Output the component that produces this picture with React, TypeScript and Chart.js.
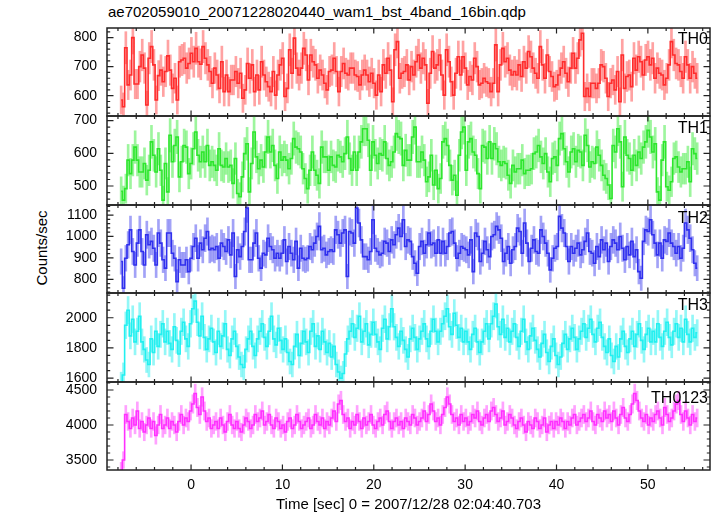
import React, { useEffect, useRef } from "react";
import { Chart, registerables } from "chart.js";

Chart.register(...registerables);

// ---------- text ----------
const TITLE = "ae702059010_20071228020440_wam1_bst_4band_16bin.qdp";
const X_LABEL = "Time [sec] 0 = 2007/12/28 02:04:40.703";
const Y_LABEL = "Counts/sec";
const PANEL_NAMES = ["TH0", "TH1", "TH2", "TH3", "TH0123"];

// ---------- axes ----------
const X_MIN = -9.2;
const X_MAX = 56.8;
const X_TICKS = [0, 10, 20, 30, 40, 50];
const T_FIRST = -7.65; // centre of first bin (s)
const T_LAST = 55.4; // centre of last bin (s)
const BIN_SEC = 0.25; // 16 x 1/64 s bins

const TH0_TICKS = [600, 700, 800];
const TH1_TICKS = [500, 600, 700];
const TH2_TICKS = [800, 900, 1000, 1100];
const TH3_TICKS = [1600, 1800, 2000];
const TH0123_TICKS = [3500, 4000, 4500];

// ---------- data (counts/sec) ----------
const TH0 = [
  585, 562, 765, 637, 671, 800, 640, 640, 700, 740, 695, 568, 729, 769, 706, 585, 669, 688, 648, 683,
  737, 688, 625, 660, 585, 717, 723, 729, 695, 711, 746, 717, 763, 717, 708, 769, 729, 706, 683, 643,
  695, 671, 625, 717, 614, 671, 614, 654, 654, 683, 643, 677, 591, 620, 711, 660, 706, 614, 671, 620,
  717, 671, 648, 631, 614, 683, 602, 671, 706, 729, 597, 625, 758, 677, 798, 695, 671, 695, 763, 740,
  654, 740, 717, 706, 660, 688, 671, 643, 620, 683, 688, 729, 683, 614, 683, 711, 677, 671, 695, 695,
  671, 666, 637, 671, 688, 671, 648, 677, 643, 602, 671, 614, 706, 677, 729, 688, 579, 758, 786, 660,
  677, 683, 706, 654,
  700, 671, 717, 740, 695, 729, 706, 574, 677, 752, 695, 706, 740, 671, 602, 758, 717, 648, 602, 677,
  734, 671, 734, 695, 637, 666, 654, 729, 700, 637, 643, 660, 648, 643, 614, 643, 775, 614, 706, 763,
  717, 729, 688, 671, 683, 671, 706, 666, 717, 695, 752, 734, 695, 677, 660, 769, 706, 660, 740, 683,
  666, 631, 637, 671, 695, 717, 677, 648, 695, 746, 695, 729, 792, 815, 597, 625, 597, 643, 643, 625,
  643, 706, 700, 660, 597, 643, 654, 620, 683, 579, 740, 625, 666, 671, 631, 729, 688, 734, 717, 671,
  723, 734, 706, 729, 660, 695, 677, 671, 637, 660, 706, 786, 740, 711, 706, 683, 660, 734, 706, 660,
  700, 677, 660,
];

const TH1 = [
  484, 457, 492, 579, 538, 579, 619, 579, 543, 543, 569, 518, 548, 635, 594, 543, 614, 548, 457, 569,
  482, 655, 574, 624, 650, 528, 574, 624, 619, 538, 569, 614, 665, 594, 574, 604, 574, 624, 563, 574,
  563, 548, 614, 563, 558, 584, 558, 563, 508, 584, 477, 467, 528, 599, 629, 482, 569, 665, 589, 553,
  579, 558, 604, 650, 604, 624, 563, 523, 604, 579, 589, 579, 553, 584, 645, 619, 614, 604, 553, 523,
  492, 548, 604, 548, 533, 508, 619, 589, 589, 548, 589, 563, 558, 594, 589, 574, 599, 650, 584, 548,
  604, 548, 604, 635, 675, 675, 640, 548, 635, 594, 569, 599, 594, 635, 584, 563, 574, 604, 660, 650,
  645, 563, 609, 579,
  579, 650, 680, 574, 574, 604, 579, 513, 528, 594, 503, 548, 492, 523, 635, 645, 624, 563, 518, 533,
  472, 594, 665, 680, 548, 635, 645, 604, 594, 538, 492, 624, 619, 584, 635, 584, 629, 614, 574, 563,
  574, 569, 533, 508, 563, 543, 553, 553, 579, 538, 548, 548, 553, 599, 604, 624, 589, 569, 599, 543,
  513, 584, 589, 563, 645, 660, 614, 574, 543, 604, 614, 574, 609, 604, 563, 655, 624, 558, 574, 569,
  619, 594, 563, 533, 523, 503, 462, 624, 604, 675, 635, 498, 650, 594, 584, 548, 594, 563, 604, 584,
  619, 635, 670, 650, 604, 629, 482, 457, 579, 635, 498, 487, 513, 584, 589, 558, 543, 553, 553, 574,
  513, 614, 599, 584,
];

const TH2 = [
  883, 758, 898, 961, 1031, 930, 867, 969, 1031, 930, 867, 1008, 961, 977, 945, 867, 1016, 969, 891, 852,
  1016, 1016, 922, 898, 789, 891, 867, 867, 891, 836, 898, 953, 992, 898, 969, 938, 992, 1023, 938, 945,
  938, 953, 898, 969, 953, 930, 984, 914, 1016, 813, 938, 906, 953, 1023, 1133, 891, 891, 969, 1016, 898,
  852, 922, 914, 992, 953, 938, 898, 922, 898, 922, 984, 883, 953, 922, 891, 977, 852, 945, 898, 891,
  898, 953, 938, 969, 1000, 1047, 938, 945, 914, 930, 938, 930, 1031, 1008, 969, 1016, 1031, 813, 1023, 1016,
  969, 1133, 1063, 984, 906, 906, 891, 930, 1078, 945, 930, 914, 922, 977, 969, 930, 984, 961, 1008, 1039,
  1000, 1078, 953, 984,
  977, 906, 875, 828, 953, 977, 922, 961, 1016, 961, 969, 922, 984, 922, 977, 922, 953, 1016, 1023, 969,
  898, 922, 953, 945, 938, 914, 984, 836, 1016, 1000, 883, 922, 977, 938, 906, 1000, 1008, 1047, 1031, 992,
  883, 922, 953, 875, 938, 953, 1039, 1023, 922, 1063, 969, 883, 945, 984, 930, 922, 1031, 1000, 969, 922,
  844, 898, 945, 953, 1094, 1039, 1016, 953, 883, 953, 922, 945, 969, 914, 938, 977, 1016, 930, 922, 875,
  953, 906, 984, 938, 969, 883, 953, 984, 969, 938, 1000, 945, 891, 953, 914, 977, 906, 938, 836, 805,
  977, 1031, 1023, 1078, 1008, 969, 914, 969, 898, 984, 977, 1016, 969, 953, 922, 953, 898, 945, 1063, 1031,
  992, 938, 875, 852,
];

const TH3 = [
  1560, 1620, 1950, 2050, 1880, 1990, 1840, 1910, 2010, 1840,
  1790, 1720, 1690, 1860, 1770, 1910, 1810, 1890, 1960, 1840,
  1910, 1830, 1790, 1940, 1850, 1760, 1910, 1970, 1860, 1810,
  1960, 2060, 2110, 1970, 1880, 2010, 1870, 1790, 1860, 1930,
  1840, 1770, 1910, 1810, 1880, 1960, 1790, 1750, 1860, 1910,
  1810, 1740, 1690, 1670, 1790, 1860, 1910, 1810, 1750, 1860,
  1910, 1960, 1870, 1810, 1910, 2010, 1860, 1820, 1930, 1850,
  1790, 1860, 1770, 1710, 1690, 1810, 1890, 1750, 1830, 1910,
  1840, 1770, 1910, 1960, 1810, 1880, 1790, 1910, 1840, 1770,
  1830, 1740, 1810, 1690, 1640, 1600, 1630, 1760, 1860, 1910,
  1960, 1870, 1930, 2010, 1840, 1910, 1960, 1820, 1890, 1970,
  1890, 1840, 1790, 1930, 1990, 1860, 1940, 2060, 1940, 1870,
  1810, 1910, 1850, 1790, 1740, 1860, 1930, 1870, 1790, 1860,
  1910, 1960, 1860, 1810, 1910, 1990, 1910, 1840, 1910, 1960,
  2010, 2060, 1940, 1890, 2030, 1950, 1870, 1930, 1840, 1910,
  1840, 1790, 1890, 1930, 1840, 1770, 1840, 1910, 1960, 1860,
  1960, 2010, 2090, 1940, 1890, 1990, 1870, 1930, 1840, 1910,
  1960, 1870, 1810, 1910, 1990, 1840, 1790, 1880, 1930, 1850,
  1790, 1740, 1830, 1890, 1770, 1710, 1810, 1860, 1750, 1690,
  1740, 1830, 1890, 1790, 1860, 1930, 1870, 1790, 1860, 1910,
  1960, 1870, 1930, 1990, 1890, 1840, 1930, 1970, 1870, 1810,
  1770, 1860, 1750, 1710, 1810, 1740, 1860, 1910, 1810, 1770,
  1860, 1910, 1810, 1890, 1960, 1850, 1790, 1890, 1930, 1840,
  1910, 1840, 1960, 1870, 1810, 1910, 1970, 1870, 1820, 1910,
  1960, 1870, 1930, 1840, 1990, 1890, 1840, 1930, 1870, 1900,
];

const TH0123 = [
  3350, 3500, 4150, 4050, 3950, 4100, 4000, 4200, 3950, 4050,
  3900, 4000, 4100, 3950, 4050, 3850, 4000, 4150, 3950, 4000,
  4100, 3950, 4050, 4000, 3900, 4050, 4150, 4000, 4100, 4050,
  4200, 4300, 4450, 4250, 4150, 4400, 4200, 4050, 4100, 3950,
  4000, 4050, 3950, 4100, 4000, 3900, 4050, 4150, 4000, 3950,
  4050, 3950, 3900, 4000, 4100, 4050, 3950, 4000, 4150, 4050,
  4100, 4200, 4000, 4050, 4150, 4000, 3950, 4100, 4050, 3950,
  4000, 3900, 4050, 4100, 3950, 4000, 4150, 4050, 3950, 4000,
  4050, 4100, 3950, 4000, 4150, 4050, 4000, 4100, 3950, 4050,
  4000, 4100, 4200, 4050, 4300, 4350, 4150, 4050, 4100, 3950,
  4050, 4000, 4150, 4050, 3950, 4100, 4000, 4050, 4150, 4000,
  3950, 4050, 4100, 4000, 4150, 4200, 4050, 3950, 4050, 4100,
  4000, 4050, 3950, 4100, 4050, 4000, 4150, 4100, 4000, 4050,
  4100, 4200, 4050, 4150, 4300, 4200, 4050, 4100, 4000, 4150,
  4250, 4400, 4300, 4150, 4050, 4100, 4000, 4150, 4050, 4100,
  4000, 4050, 4150, 4100, 4200, 4050, 4000, 4100, 4150, 4050,
  4200, 4250, 4150, 4050, 4100, 4200, 4000, 4050, 4150, 4100,
  4000, 3950, 4050, 4100, 4000, 3900, 4050, 4000, 3950, 4100,
  4050, 3950, 4000, 4100, 3900, 4000, 4050, 3950, 4050, 4000,
  4100, 4050, 3950, 4050, 4000, 4100, 4150, 4000, 4050, 4100,
  4150, 4050, 4100, 4200, 4050, 4000, 4150, 4100, 4050, 4200,
  4100, 4150, 4050, 4200, 4100, 4000, 4150, 4250, 4100, 4050,
  4150, 4300, 4450, 4350, 4200, 4100, 4050, 4150, 4000, 4100,
  4050, 4150, 4200, 4100, 4000, 4250, 4150, 4050, 4100, 4200,
  4300, 4350, 4150, 4050, 4200, 4100, 4000, 4150, 4050, 4100,
];

// ---------- layout / style ----------
const W = 717;
const H = 516;
const PANEL_TOPS = [28, 116, 205, 293, 382];
const PANEL_BOTTOM = 470;
const LABEL_OFFSETS = [3, 4, 5, 4, 8];
const AXIS_LEFT = 107;
const AXIS_RIGHT = 710;
const PAD = 10;
const X_AXIS_H = 46;
const FONT_FAMILY = "'Liberation Sans', Arial, Helvetica, sans-serif";

const PANELS = [
  { name: PANEL_NAMES[0], values: TH0, yMin: 530, yMax: 833, ticks: TH0_TICKS, major: 100, minor: 20, line: "#ff2d2d", err: "rgba(255,70,70,0.5)" },
  { name: PANEL_NAMES[1], values: TH1, yMin: 442, yMax: 714, ticks: TH1_TICKS, major: 100, minor: 20, line: "#2de62d", err: "rgba(60,235,60,0.5)" },
  { name: PANEL_NAMES[2], values: TH2, yMin: 736, yMax: 1147, ticks: TH2_TICKS, major: 100, minor: 20, line: "#3030ee", err: "rgba(70,70,240,0.5)" },
  { name: PANEL_NAMES[3], values: TH3, yMin: 1574, yMax: 2164, ticks: TH3_TICKS, major: 200, minor: 50, line: "#22f0f0", err: "rgba(40,240,240,0.5)" },
  { name: PANEL_NAMES[4], values: TH0123, yMin: 3357, yMax: 4614, ticks: TH0123_TICKS, major: 500, minor: 100, line: "#ff30ff", err: "rgba(255,70,255,0.5)" },
];

const frameTicksPlugin = {
  id: "frameTicks",
  afterDatasetsDraw(chart: any, _args: any, opts: any) {
    const { ctx, chartArea: a } = chart;
    const xs = chart.scales.x;
    const ys = chart.scales.y;
    ctx.save();
    ctx.strokeStyle = "#222";
    ctx.lineWidth = 1.2;
    ctx.beginPath();
    const eps = 1e-6;
    // y ticks, left and right, pointing inward
    const ys0 = Math.ceil(ys.min / opts.minor) * opts.minor;
    for (let v = ys0; v <= ys.max + eps; v += opts.minor) {
      const y = ys.getPixelForValue(v);
      const isMajor = Math.abs(v / opts.major - Math.round(v / opts.major)) < eps;
      const L = isMajor ? 6.5 : 3.2;
      ctx.moveTo(a.left, y);
      ctx.lineTo(a.left + L, y);
      ctx.moveTo(a.right, y);
      ctx.lineTo(a.right - L, y);
    }
    // x ticks, top and bottom, pointing inward
    const xs0 = Math.ceil(xs.min / 2) * 2;
    for (let v = xs0; v <= xs.max + eps; v += 2) {
      const x = xs.getPixelForValue(v);
      const isMajor = Math.abs(v / 10 - Math.round(v / 10)) < eps;
      const L = isMajor ? 5.5 : 3;
      ctx.moveTo(x, a.bottom);
      ctx.lineTo(x, a.bottom - L);
      ctx.moveTo(x, a.top);
      ctx.lineTo(x, a.top + L);
    }
    ctx.stroke();
    ctx.lineWidth = 1.5;
    ctx.strokeRect(a.left, a.top, a.right - a.left, a.bottom - a.top);
    ctx.restore();
  },
};

function Panel({ index }: { index: number }) {
  const ref = useRef<HTMLCanvasElement | null>(null);
  const isLast = index === PANELS.length - 1;
  const top = PANEL_TOPS[index];
  const bottom = isLast ? PANEL_BOTTOM : PANEL_TOPS[index + 1];
  const canvasTop = top - PAD;
  const canvasH = isLast ? H - canvasTop : bottom - top + 2 * PAD;

  useEffect(() => {
    const p = PANELS[index];
    const n = p.values.length;
    const step = (T_LAST - T_FIRST) / (n - 1);
    const times = p.values.map((_v, i) => T_FIRST + i * step);
    const lineData = p.values.map((v, i) => ({ x: times[i], y: v }));
    const errData = p.values.map((v, i) => {
      const e = Math.sqrt(v / BIN_SEC);
      return { x: times[i], y: [v - e, v + e] };
    });
    const font = { family: FONT_FAMILY, size: 14 };
    const chart = new Chart(ref.current as HTMLCanvasElement, {
      data: {
        datasets: [
          {
            type: "line",
            data: lineData,
            borderColor: p.line,
            borderWidth: 1.6,
            pointRadius: 0,
            stepped: "middle",
            order: 0,
          },
          {
            type: "bar",
            data: errData,
            backgroundColor: p.err,
            borderWidth: 0,
            barThickness: 2,
            grouped: false,
            order: 1,
          },
        ],
      } as any,
      options: {
        animation: false,
        responsive: false,
        maintainAspectRatio: false,
        events: [],
        layout: { padding: { left: 0, right: W - AXIS_RIGHT, top: PAD, bottom: isLast ? 0 : PAD } },
        plugins: {
          legend: { display: false },
          tooltip: { enabled: false },
          frameTicks: { major: p.major, minor: p.minor },
        } as any,
        scales: {
          x: {
            type: "linear",
            min: X_MIN,
            max: X_MAX,
            offset: false,
            display: isLast,
            grid: { display: false, drawTicks: false, offset: false },
            border: { display: false },
            afterBuildTicks: (s: any) => {
              s.ticks = X_TICKS.map((v) => ({ value: v }));
            },
            afterFit: (s: any) => {
              s.height = isLast ? X_AXIS_H : 0;
              s.paddingLeft = 0;
              s.paddingRight = 0;
            },
            ticks: { padding: 7, font, color: "#000", maxRotation: 0, autoSkip: false, callback: (v: any) => String(v) },
            title: { display: true, text: X_LABEL, font: { family: FONT_FAMILY, size: 15 }, color: "#000", padding: { top: 0, bottom: 2 } },
          },
          y: {
            type: "linear",
            position: "left",
            min: p.yMin,
            max: p.yMax,
            offset: false,
            grid: { display: false, drawTicks: false },
            border: { display: false },
            afterBuildTicks: (s: any) => {
              s.ticks = p.ticks.map((v) => ({ value: v }));
            },
            afterFit: (s: any) => {
              s.width = AXIS_LEFT;
              s.paddingTop = 0;
              s.paddingBottom = 0;
            },
            ticks: { padding: 10, font, color: "#000", autoSkip: false, callback: (v: any) => String(v) },
          },
        },
      } as any,
      plugins: [frameTicksPlugin],
    } as any);
    return () => chart.destroy();
  }, [index]);

  return (
    <canvas
      ref={ref}
      width={W}
      height={canvasH}
      style={{ position: "absolute", left: 0, top: canvasTop, width: W, height: canvasH }}
    />
  );
}

export default function App() {
  return (
    <div style={{ position: "absolute", left: 0, top: 0, width: W, height: H, background: "#fff", fontFamily: FONT_FAMILY, color: "#000", overflow: "hidden" }}>
      <div style={{ position: "absolute", left: 108, top: 4, fontSize: 15, lineHeight: "16px", whiteSpace: "nowrap" }}>{TITLE}</div>
      <div
        style={{
          position: "absolute",
          left: 42,
          top: 248,
          fontSize: 15,
          lineHeight: "16px",
          whiteSpace: "nowrap",
          transform: "translate(-50%, -50%) rotate(-90deg)",
        }}
      >
        {Y_LABEL}
      </div>
      {PANELS.map((p, i) => (
        <Panel key={p.name} index={i} />
      ))}
      {PANELS.map((p, i) => (
        <div
          key={"lbl" + p.name}
          style={{ position: "absolute", right: W - 708, top: PANEL_TOPS[i] + LABEL_OFFSETS[i], fontSize: 16, lineHeight: "16px", whiteSpace: "nowrap", zIndex: 2 }}
        >
          {p.name}
        </div>
      ))}
    </div>
  );
}
